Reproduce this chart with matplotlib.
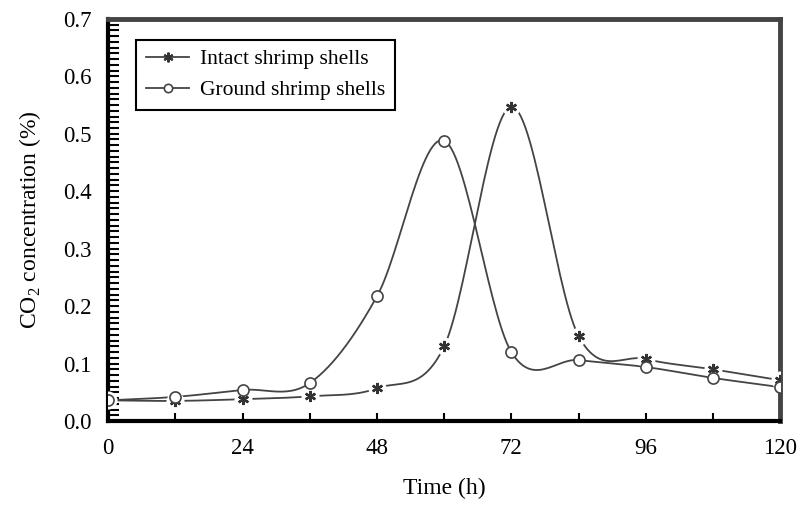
import numpy as np
import matplotlib.pyplot as plt
from matplotlib.ticker import MultipleLocator

plt.rcParams['font.family'] = 'Liberation Serif'
plt.rcParams['mathtext.fontset'] = 'custom'
plt.rcParams['mathtext.rm'] = 'Liberation Serif'

## the data
hours = [0, 12, 24, 36, 48, 60, 72, 84, 96, 108, 120]
intact = [0.036, 0.035, 0.038, 0.043, 0.057, 0.130, 0.547, 0.148, 0.108, 0.090, 0.071]
ground = [0.036, 0.042, 0.054, 0.066, 0.217, 0.488, 0.120, 0.106, 0.094, 0.075, 0.059]


def smooth(x, y, n=30):
    # catmull-rom, like excel's smoothed line
    x = np.asarray(x, float)
    y = np.asarray(y, float)
    px = np.concatenate([[2 * x[0] - x[1]], x, [2 * x[-1] - x[-2]]])
    py = np.concatenate([[2 * y[0] - y[1]], y, [2 * y[-1] - y[-2]]])
    t = np.linspace(0, 1, n)
    xs, ys = [], []
    for i in range(1, len(px) - 2):
        for p, out in ((px, xs), (py, ys)):
            p0, p1, p2, p3 = p[i - 1], p[i], p[i + 1], p[i + 2]
            out.extend(0.5 * (2 * p1 + (-p0 + p2) * t
                              + (2 * p0 - 5 * p1 + 4 * p2 - p3) * t ** 2
                              + (-p0 + 3 * p1 - 3 * p2 + p3) * t ** 3))
    return xs, ys


fig = plt.figure(figsize=(8.01, 5.23), dpi=100)
ax = fig.add_axes([0.135, 0.195, 0.839, 0.769])

lc = '#444444'
sx, sy = smooth(hours, intact)
ax.plot(sx, sy, color=lc, lw=1.3, zorder=2)
ax.plot(hours, intact, ls='none', marker='o', ms=13, mfc='white', mec='none', zorder=3)
ax.plot(hours, intact, ls='none', marker=(6, 2, 0), ms=8, mec='#333333', mew=1.7, zorder=4)

gx, gy = smooth(hours, ground)
ax.plot(gx, gy, color=lc, lw=1.3, zorder=2)
ax.plot(hours, ground, ls='none', marker='o', ms=8, mfc='white', mec=lc, mew=1.2, zorder=4)

# legend handles
h1, = ax.plot([], [], color=lc, lw=1.3, marker=(6, 2, 0), ms=7, mec='#333333', mew=1.5)
h2, = ax.plot([], [], color=lc, lw=1.3, marker='o', ms=6, mfc='white', mec=lc, mew=1.2)
leg = ax.legend((h1, h2), ('Intact shrimp shells', 'Ground shrimp shells'),
                loc='upper left', bbox_to_anchor=(0.026, 0.975), fontsize=15.5,
                fancybox=False, edgecolor='black', framealpha=1,
                handlelength=2.0, handletextpad=0.5, borderpad=0.45,
                labelspacing=0.5)
leg.get_frame().set_linewidth(1.5)

ax.set_xlim(0, 120)
ax.set_ylim(0, 0.7)
ax.set_xticks(range(0, 121, 24))
ax.xaxis.set_minor_locator(MultipleLocator(12))
ax.yaxis.set_major_locator(MultipleLocator(0.1))
ax.yaxis.set_minor_locator(MultipleLocator(0.01))
ax.yaxis.set_major_formatter(lambda v, p: '%.1f' % v)

ax.tick_params(axis='x', which='both', direction='in', length=6, width=1.5,
               labelsize=16.5, pad=12, top=False)
ax.tick_params(axis='y', which='both', direction='in', length=8, width=1.5,
               labelsize=16.5, pad=12, right=False)

for s in ('left', 'bottom'):
    ax.spines[s].set_linewidth(3)
    ax.spines[s].set_color('black')
for s in ('top', 'right'):
    ax.spines[s].set_linewidth(3.5)
    ax.spines[s].set_color('#444444')

ax.set_xlabel('Time (h)', fontsize=17, labelpad=14)
ax.set_ylabel('CO$_2$ concentration (%)', fontsize=17, labelpad=14)

fig.savefig('out.png', dpi=100)
